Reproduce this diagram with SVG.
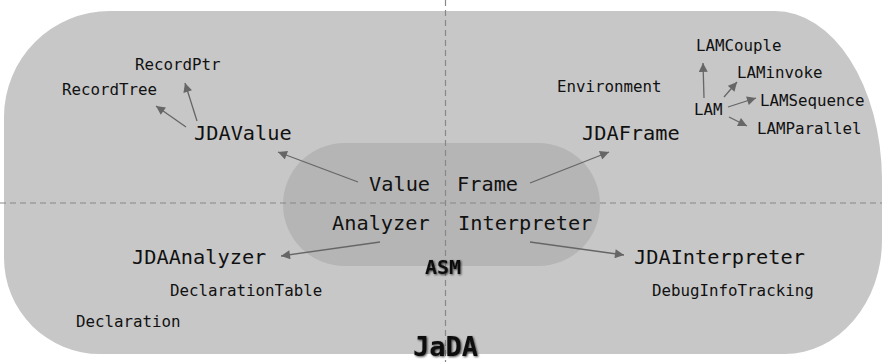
<svg xmlns="http://www.w3.org/2000/svg" width="882" height="362" viewBox="0 0 882 362">
<style>
text{font-family:"DejaVu Sans Mono","Liberation Mono",monospace;fill:#111}
.s{font-size:15.8px}
.m{font-size:20.3px}
.b{font-weight:bold}
.c line{stroke:#666;stroke-width:1.3;marker-end:url(#ah)}
.d{stroke:#888;stroke-width:1.2;stroke-dasharray:6 4;fill:none}
</style>
<defs>
<marker id="ah" viewBox="0 0 10 10" refX="10" refY="5" markerWidth="10" markerHeight="9" markerUnits="userSpaceOnUse" orient="auto">
<path d="M0,0 L10,5 L0,10 Z" fill="#666"/>
</marker>
<filter id="sh" x="-20%" y="-20%" width="140%" height="140%">
<feGaussianBlur in="SourceAlpha" stdDeviation="1"/>
<feOffset dx="0.5" dy="0.5"/>
<feComponentTransfer><feFuncA type="linear" slope="0.7"/></feComponentTransfer>
<feMerge><feMergeNode/><feMergeNode in="SourceGraphic"/></feMerge>
</filter>
</defs>
<rect width="882" height="362" fill="#ffffff"/>
<g id="JaDA">
<path d="M110,11 H775 A107,170 0 0 1 882,178 V240 A97,114 0 0 1 785,354 H100 A96,96 0 0 1 4,258 V117 A106,106 0 0 1 110,11 Z" fill="#c7c7c7"/>
</g>
<g id="ASM">
<rect x="283" y="143" width="317" height="123" rx="61.5" ry="61.5" fill="#b5b5b5"/>
</g>
<g id="dividers">
<line class="d" x1="445.5" y1="0" x2="445.5" y2="362"/>
<line class="d" x1="0" y1="203" x2="882" y2="203"/>
</g>
<g id="labels-core">
<g id="n-Value"><text class="m" x="369" y="191">Value</text></g>
<g id="n-Frame"><text class="m" x="457" y="191">Frame</text></g>
<g id="n-Analyzer"><text class="m" x="332" y="230">Analyzer</text></g>
<g id="n-Interpreter"><text class="m" x="458" y="230">Interpreter</text></g>
<g id="n-ASMlabel"><text class="b" x="425" y="274" font-size="20" filter="url(#sh)">ASM</text></g>
</g>
<g id="n-JDAValue"><text class="m" x="194" y="140">JDAValue</text></g>
<g id="n-RecordTree"><text class="s" x="62" y="95">RecordTree</text></g>
<g id="n-RecordPtr"><text class="s" x="135" y="70">RecordPtr</text></g>
<g id="n-JDAFrame"><text class="m" x="582" y="140">JDAFrame</text></g>
<g id="n-Environment"><text class="s" x="557" y="92">Environment</text></g>
<g id="n-LAM"><text class="s" x="694" y="115">LAM</text></g>
<g id="n-LAMCouple"><text class="s" x="696" y="51">LAMCouple</text></g>
<g id="n-LAMinvoke"><text class="s" x="737" y="78">LAMinvoke</text></g>
<g id="n-LAMSequence"><text class="s" x="760" y="106">LAMSequence</text></g>
<g id="n-LAMParallel"><text class="s" x="757" y="134">LAMParallel</text></g>
<g id="n-JDAAnalyzer"><text class="m" x="132" y="264">JDAAnalyzer</text></g>
<g id="n-DeclarationTable"><text class="s" x="170" y="296">DeclarationTable</text></g>
<g id="n-Declaration"><text class="s" x="76" y="327">Declaration</text></g>
<g id="n-JDAInterpreter"><text class="m" x="634" y="264">JDAInterpreter</text></g>
<g id="n-DebugInfoTracking"><text class="s" x="652" y="296">DebugInfoTracking</text></g>
<g id="n-JaDAlabel"><text class="b" x="413" y="356" font-size="27" filter="url(#sh)">JaDA</text></g>
<g id="connectors" class="c">
<line x1="358" y1="182" x2="278" y2="152"/>
<line x1="186" y1="127" x2="156" y2="106"/>
<line x1="197" y1="121" x2="185" y2="83"/>
<line x1="530" y1="183" x2="609" y2="152"/>
<line x1="704" y1="98" x2="703" y2="63"/>
<line x1="724" y1="97" x2="737" y2="82"/>
<line x1="728" y1="107" x2="756" y2="98"/>
<line x1="729" y1="117" x2="747" y2="126"/>
<line x1="380" y1="242" x2="281" y2="256"/>
<line x1="530" y1="242" x2="624" y2="255"/>
</g>
</svg>
